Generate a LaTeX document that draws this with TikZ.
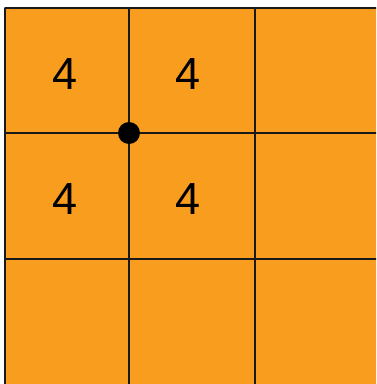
\documentclass[tikz,border=0pt]{standalone}
\usepackage{fontspec}
\setmainfont{Liberation Sans}
\definecolor{cellorange}{RGB}{248,157,30}
\tikzset{
  every picture/.style={line join=round, line cap=round},
  gridline/.style={line width=1.6pt, black!90},
  num/.style={font=\fontsize{45}{50}\selectfont, inner sep=0pt},
  corner/.style={circle, fill=black, inner sep=0pt, minimum size=22pt},
}

\begin{document}
\begin{tikzpicture}[x=1pt,y=1pt]
\useasboundingbox (0,0) rectangle (376,384);
\clip (0,0) rectangle (376,384);
\fill[cellorange](5,0) rectangle (379,376);
\draw[gridline](5,376)--(379,376)
(5,251)--(379,251)
(5,125)--(379,125)
(5,0)--(5,376)
(129,0)--(129,376)
(255,0)--(255,376);
\node[num] (a11) at (65,310) {4};
\node[num] (a12) at (188,310) {4};
\node[num] (a21) at (65,185) {4};
\node[num] (a22) at (188,185) {4};
\node[corner] (dot) at (129,251) {};
\end{tikzpicture}
\end{document}
